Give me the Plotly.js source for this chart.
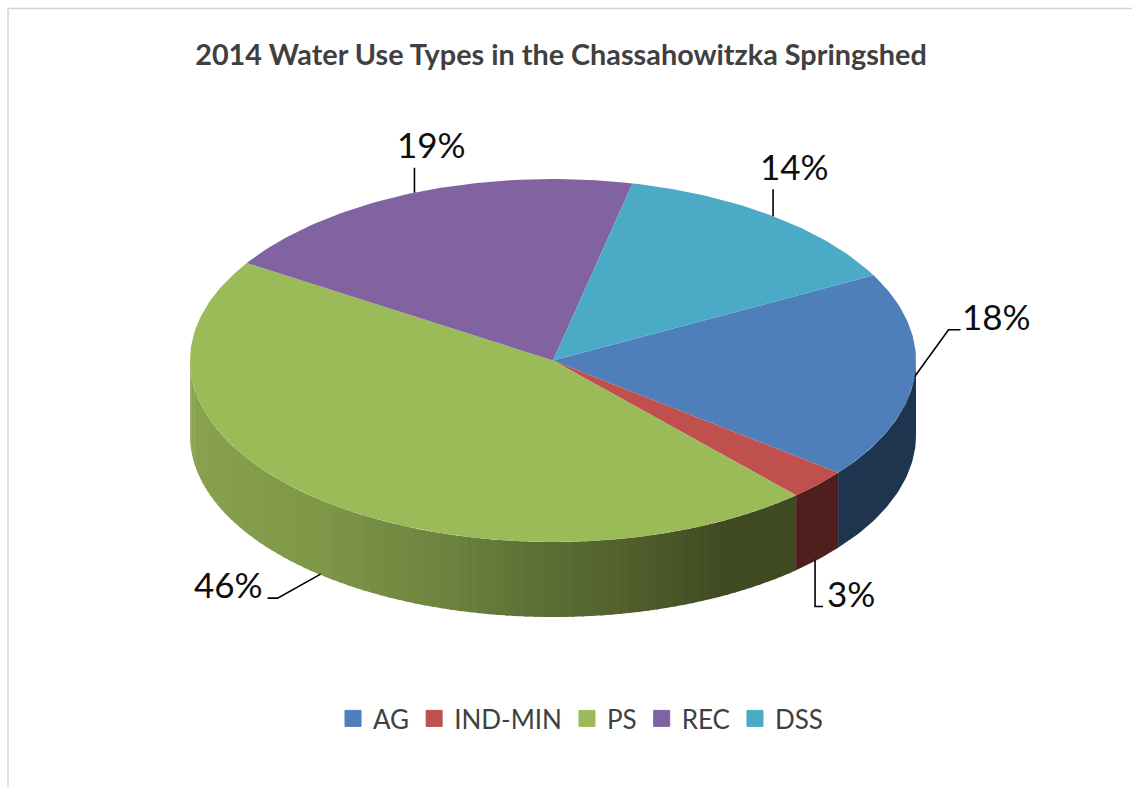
<!DOCTYPE html>
<html>
<head>
<meta charset="utf-8">
<script src="https://cdn.plot.ly/plotly-3.0.1.min.js"></script>
<style>html,body{margin:0;padding:0;background:#fff;overflow:hidden}#chart{width:1133px;height:787px}</style>
</head>
<body>
<div id="chart"></div>
<script>
const categories = ['AG', 'IND-MIN', 'PS', 'REC', 'DSS'];
const shares = [18.4, 2.7, 45.7, 19.49, 13.71];
const topColors = ['#4f7fbb', '#bf504d', '#9bbb59', '#8063a0', '#4baac5'];
const sideColors = ['#1f344f', '#4f1f1e', null, '#4b3a60', '#2c6575'];

// Picture geometry in pixel units
const CX = 553, CY = 360.5, RX = 363, RY = 181.5, DEPTH = 75, START = 62;
const rad = d => d * Math.PI / 180;
const px = t => CX + RX * Math.sin(rad(t));
const py = t => CY - RY * Math.cos(rad(t));

// Green side gradient, left to right
const gradient = [[190,[136,162,80]],[320,[126,151,72]],[450,[108,130,62]],[530,[94,112,54]],[620,[82,97,46]],[730,[64,74,33]],[1000,[64,74,33]]];
function gradColor(x){
  for(let i=1;i<gradient.length;i++){
    if(x<=gradient[i][0]){
      const [x0,c0]=gradient[i-1],[x1,c1]=gradient[i];
      const f=Math.max(0,(x-x0)/(x1-x0));
      return 'rgb('+c0.map((c,k)=>Math.round(c+(c1[k]-c)*f)).join(',')+')';
    }
  }
  return 'rgb(64,74,33)';
}

const traces = [];
function poly(xs, ys, color){
  traces.push({type:'scatter',mode:'lines',x:xs,y:ys,fill:'toself',fillcolor:color,
    line:{width:0,color:color},showlegend:false,hoverinfo:'skip'});
}
function sideQuad(a,b,color){
  const xs=[],ys=[];
  const n=Math.max(2,Math.ceil((b-a)/1));
  for(let i=0;i<=n;i++){const t=a+(b-a)*i/n;xs.push(px(t));ys.push(py(t));}
  for(let i=n;i>=0;i--){const t=a+(b-a)*i/n;xs.push(px(t));ys.push(py(t)+DEPTH);}
  xs.push(xs[0]);ys.push(ys[0]);
  poly(xs,ys,color);
}

// slice boundaries from the values
let cursor = START;
const slices = shares.map((v,i)=>{const a=cursor,b=cursor+v*3.6;cursor=b;return {a,b,mid:(a+b)/2,i};});

// sides (only the front half shows)
slices.forEach(s=>{
  const a=Math.max(s.a,90), b=Math.min(s.b,270);
  if(b<=a) return;
  if(sideColors[s.i]){ sideQuad(a,b,sideColors[s.i]); }
  else{
    const step=1.5;
    for(let t=b;t>a;t-=step){
      const t0=Math.max(a,t-step);
      const c=gradColor(px((t0+t)/2));
      sideQuad(Math.max(a,t0-0.4),t,c);
    }
  }
});
// top faces
slices.forEach(s=>{
  const xs=[CX],ys=[CY];
  const n=Math.ceil((s.b-s.a));
  for(let i=0;i<=n;i++){const t=s.a+(s.b-s.a)*i/n;xs.push(px(t));ys.push(py(t));}
  xs.push(CX);ys.push(CY);
  poly(xs,ys,topColors[s.i]);
});

// leader lines and label spots
const leaders = [
  {drop:0,  dx:0, path:[[34,-47],[46,-47]], tx:996, ty:316},
  {drop:DEPTH, dx:-3, path:[[0,47],[8,47]], tx:851, ty:593},
  {drop:DEPTH, dx:2, path:[[-43,24],[-53,24]], tx:228, ty:584},
  {drop:0,  dx:0, path:[[0,-25]], tx:431, ty:144},
  {drop:0,  dx:0, path:[[0,-27]], tx:794, ty:166}
];
const annotations=[];
slices.forEach(s=>{
  const L=leaders[s.i];
  const x0=px(s.mid)+L.dx, y0=py(s.mid)+L.drop;
  traces.push({type:'scatter',mode:'lines',x:[x0].concat(L.path.map(p=>x0+p[0])),y:[y0].concat(L.path.map(p=>y0+p[1])),
    line:{color:'#000',width:1.6},showlegend:false,hoverinfo:'skip'});
  annotations.push({xref:'x',yref:'y',x:L.tx,y:L.ty,text:Math.round(shares[s.i])+'%',showarrow:false,
    font:{family:'Lato, Carlito, sans-serif',size:35,color:'#0d0d0d'},xanchor:'center',yanchor:'middle'});
});

// legend entries
categories.forEach((c,i)=>{
  traces.push({type:'scatter',mode:'markers',x:[null],y:[null],name:c,
    marker:{symbol:'square',size:16,color:topColors[i],line:{width:1,color:topColors[i]}},hoverinfo:'skip'});
});

const layout={
  width:1133,height:787,margin:{l:0,r:0,t:0,b:0},
  paper_bgcolor:'#fff',plot_bgcolor:'#fff',
  title:{text:'<b>2014 Water Use Types in the Chassahowitzka Springshed</b>',
    font:{family:'Lato, Carlito, sans-serif',size:28.8,color:'#404040'},
    x:561/1133,xanchor:'center',y:1-55/787,yanchor:'middle',xref:'paper',yref:'paper'},
  xaxis:{range:[0,1133],visible:false,fixedrange:true},
  yaxis:{range:[787,0],visible:false,fixedrange:true},
  showlegend:true,
  legend:{orientation:'h',x:333/1133,y:1-695/787,xanchor:'left',yanchor:'top',
    font:{family:'Lato, Carlito, sans-serif',size:26,color:'#404040'},itemwidth:30,traceorder:'normal',bgcolor:'rgba(0,0,0,0)'},
  annotations:annotations,
  shapes:[
    {type:'line',xref:'x',yref:'y',x0:8,x1:1132,y0:8.5,y1:8.5,line:{color:'#d4d4d4',width:1.5}},
    {type:'line',xref:'x',yref:'y',x0:8,x1:8,y0:8,y1:787,line:{color:'#d4d4d4',width:1.5}}
  ]
};
Plotly.newPlot('chart',traces,layout,{displayModeBar:false,staticPlot:true});
</script>
</body>
</html>
